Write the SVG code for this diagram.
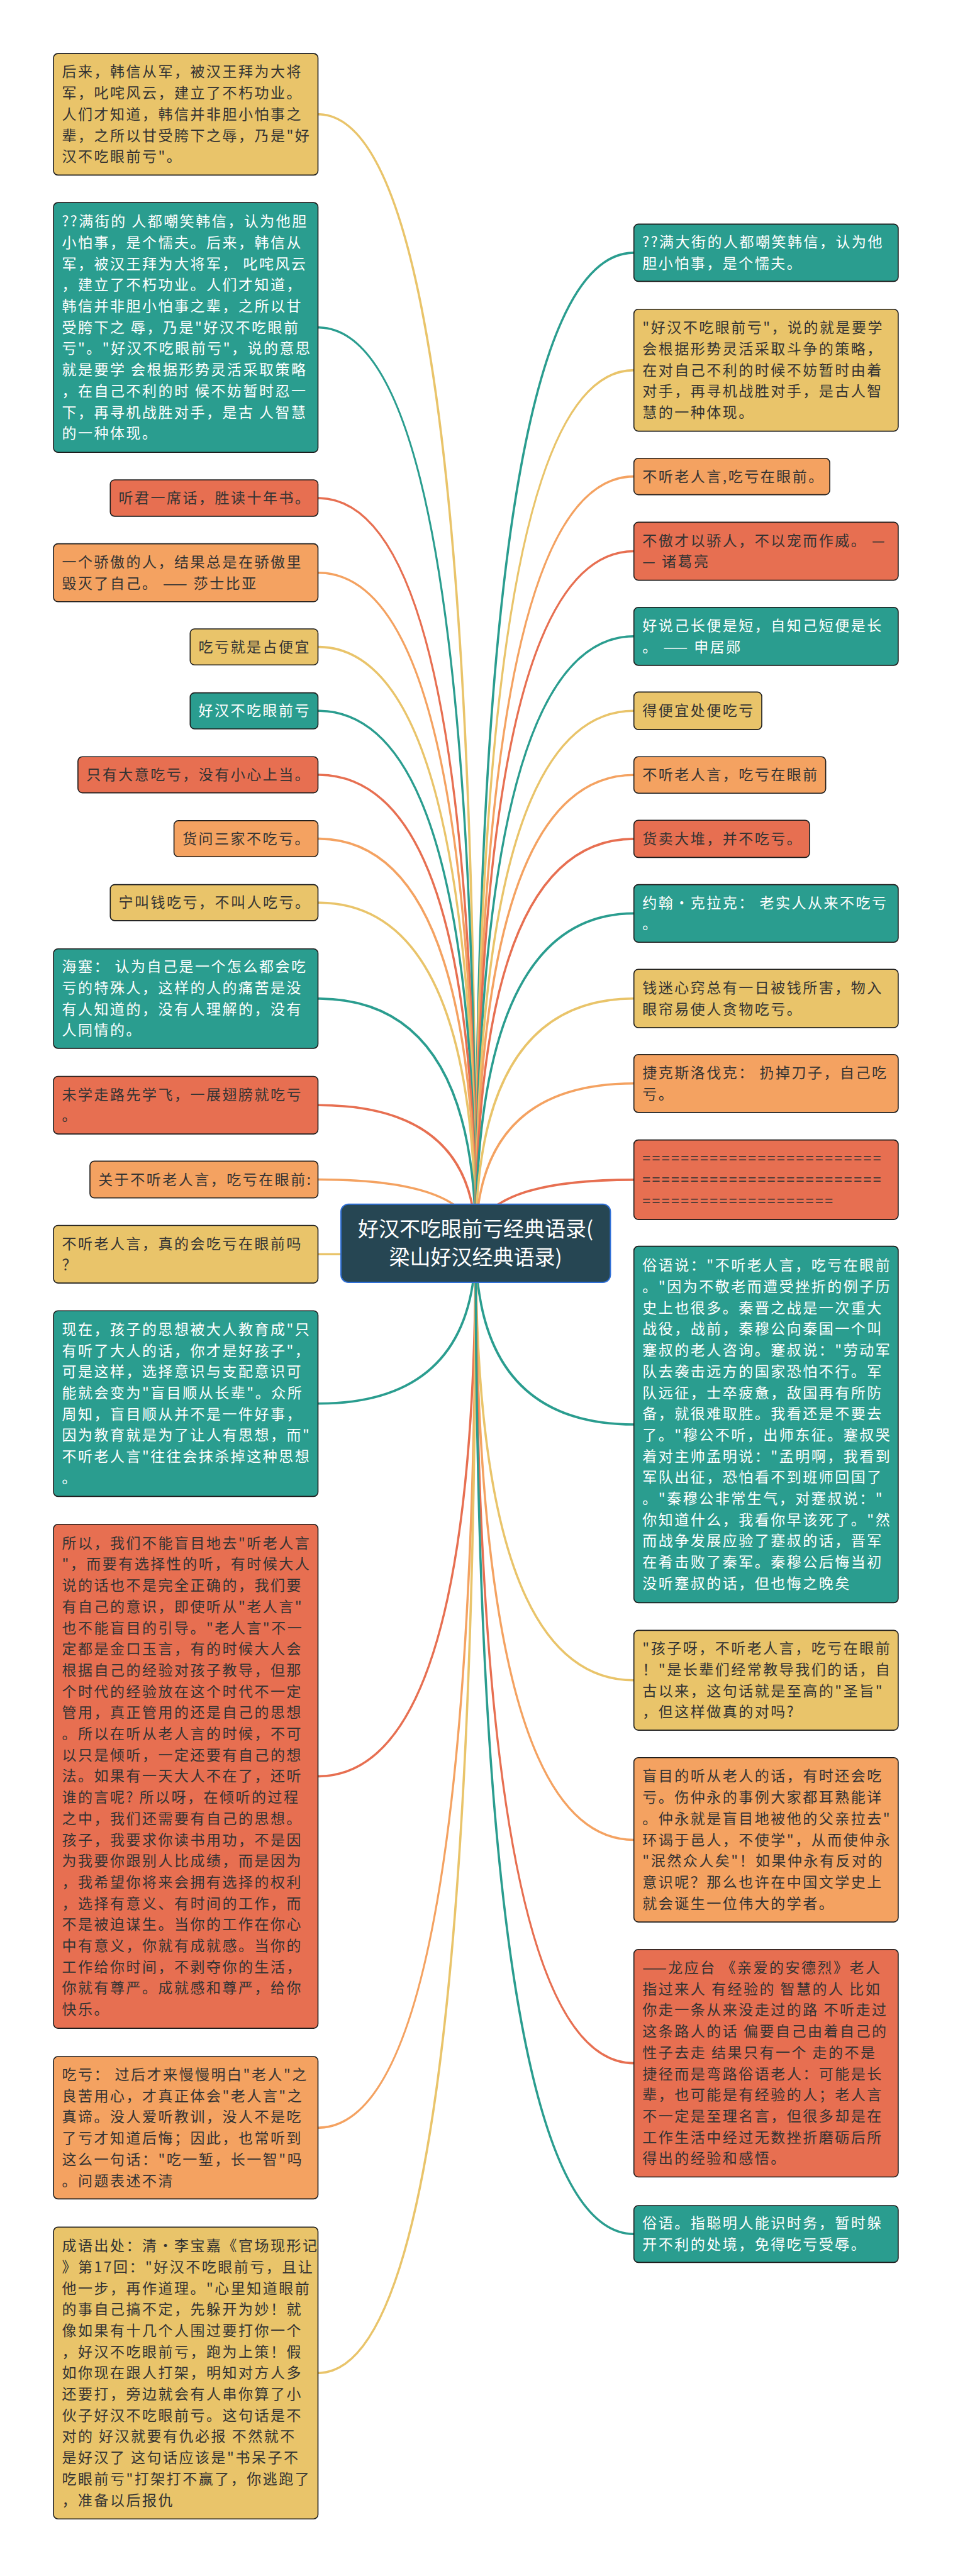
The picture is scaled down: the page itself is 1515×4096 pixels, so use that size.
<svg xmlns="http://www.w3.org/2000/svg" width="1515" height="4096" viewBox="0 0 1515 4096">
<style>
.n rect{stroke:#1c1c1c;stroke-width:1.6}
.Y rect{fill:#E9C46A}.O rect{fill:#F4A261}.R rect{fill:#E76F51}.T rect{fill:#2A9D8F}
.n text{font-family:"Noto Sans CJK SC","Noto Sans",sans-serif;font-size:23px;letter-spacing:2.5px;fill:#333}
.T text{fill:#fff}
#conn path{fill:none;stroke-width:3.6}
.cy{stroke:#E9C46A}.co{stroke:#F4A261}.cr{stroke:#E76F51}.ct{stroke:#2A9D8F}
</style>
<rect x="0" y="0" width="1515" height="4096" fill="#fff"/>
<g id="conn">
<path class="cy" d="M505.5 181.75Q756.2 181.75 756.2 1977"/>
<path class="ct" d="M505.5 520.65Q756.2 520.65 756.2 1977"/>
<path class="cr" d="M505.5 791.95Q756.2 791.95 756.2 1977"/>
<path class="co" d="M505.5 910.7Q756.2 910.7 756.2 1977"/>
<path class="cy" d="M505.5 1028.65Q756.2 1028.65 756.2 1977"/>
<path class="ct" d="M505.5 1130.3Q756.2 1130.3 756.2 1977"/>
<path class="cr" d="M505.5 1231.95Q756.2 1231.95 756.2 1977"/>
<path class="co" d="M505.5 1333.6Q756.2 1333.6 756.2 1977"/>
<path class="cy" d="M505.5 1435.25Q756.2 1435.25 756.2 1977"/>
<path class="ct" d="M505.5 1587.85Q756.2 1587.85 756.2 1977"/>
<path class="cr" d="M505.5 1757.3Q756.2 1757.3 756.2 1977"/>
<path class="co" d="M505.5 1875.55Q756.2 1875.55 756.2 1977"/>
<path class="cy" d="M505.5 1994.3Q756.2 1994.3 756.2 1977"/>
<path class="ct" d="M505.5 2231.8Q756.2 2231.8 756.2 1977"/>
<path class="cr" d="M505.5 2824.4Q756.2 2824.4 756.2 1977"/>
<path class="co" d="M505.5 3383.2Q756.2 3383.2 756.2 1977"/>
<path class="cy" d="M505.5 3773.25Q756.2 3773.25 756.2 1977"/>
<path class="ct" d="M1007.7 401.9Q756.2 401.9 756.2 1977"/>
<path class="cy" d="M1007.7 588.65Q756.2 588.65 756.2 1977"/>
<path class="co" d="M1007.7 757.65Q756.2 757.65 756.2 1977"/>
<path class="cr" d="M1007.7 876.5Q756.2 876.5 756.2 1977"/>
<path class="ct" d="M1007.7 1011.8Q756.2 1011.8 756.2 1977"/>
<path class="cy" d="M1007.7 1130.25Q756.2 1130.25 756.2 1977"/>
<path class="co" d="M1007.7 1232.25Q756.2 1232.25 756.2 1977"/>
<path class="cr" d="M1007.7 1333.85Q756.2 1333.85 756.2 1977"/>
<path class="ct" d="M1007.7 1452.4Q756.2 1452.4 756.2 1977"/>
<path class="cy" d="M1007.7 1587.7Q756.2 1587.7 756.2 1977"/>
<path class="co" d="M1007.7 1722.8Q756.2 1722.8 756.2 1977"/>
<path class="cr" d="M1007.7 1875.85Q756.2 1875.85 756.2 1977"/>
<path class="ct" d="M1007.7 2265Q756.2 2265 756.2 1977"/>
<path class="cy" d="M1007.7 2671.75Q756.2 2671.75 756.2 1977"/>
<path class="co" d="M1007.7 2925.45Q756.2 2925.45 756.2 1977"/>
<path class="cr" d="M1007.7 3280.65Q756.2 3280.65 756.2 1977"/>
<path class="ct" d="M1007.7 3552.2Q756.2 3552.2 756.2 1977"/>
</g>
<g id="root">
<rect x="542" y="1914.8" width="428.4" height="124.2" rx="12" fill="#264653" stroke="#2F6FD6" stroke-width="2"/>
<text font-family="'Noto Sans CJK SC','Noto Sans',sans-serif" font-size="33" fill="#fff" text-anchor="middle"><tspan x="756.2" y="1966">好汉不吃眼前亏经典语录(</tspan><tspan x="756.2" y="2011">梁山好汉经典语录)</tspan></text>
</g>
<g id="L1" class="n Y"><rect x="85.1" y="85.1" width="420.4" height="193.3" rx="7"/><text><tspan x="98.4" y="122.4">后来，韩信从军，被汉王拜为大将</tspan><tspan x="98.4" y="156.1">军，叱咤风云，建立了不朽功业。</tspan><tspan x="98.4" y="189.8">人们才知道，韩信并非胆小怕事之</tspan><tspan x="98.4" y="223.5">辈，之所以甘受胯下之辱，乃是"好</tspan><tspan x="98.4" y="257.2">汉不吃眼前亏"。</tspan></text></g>
<g id="L2" class="n T"><rect x="85.1" y="322.1" width="420.4" height="397.1" rx="7"/><text><tspan x="98.4" y="360.2">??满街的 人都嘲笑韩信，认为他胆</tspan><tspan x="98.4" y="393.9">小怕事，是个懦夫。后来，韩信从</tspan><tspan x="98.4" y="427.6">军，被汉王拜为大将军， 叱咤风云</tspan><tspan x="98.4" y="461.3">，建立了不朽功业。人们才知道，</tspan><tspan x="98.4" y="495">韩信并非胆小怕事之辈，之所以甘</tspan><tspan x="98.4" y="528.7">受胯下之 辱，乃是"好汉不吃眼前</tspan><tspan x="98.4" y="562.4">亏"。"好汉不吃眼前亏"，说的意思</tspan><tspan x="98.4" y="596.1">就是要学 会根据形势灵活采取策略</tspan><tspan x="98.4" y="629.8">，在自己不利的时 候不妨暂时忍一</tspan><tspan x="98.4" y="663.5">下，再寻机战胜对手，是古 人智慧</tspan><tspan x="98.4" y="697.2">的一种体现。</tspan></text></g>
<g id="L3" class="n R"><rect x="175.3" y="763" width="330.2" height="57.9" rx="7"/><text><tspan x="188.6" y="800">听君一席话，胜读十年书。</tspan></text></g>
<g id="L4" class="n O"><rect x="85.1" y="864.6" width="420.4" height="92.2" rx="7"/><text><tspan x="98.4" y="901.9">一个骄傲的人，结果总是在骄傲里</tspan><tspan x="98.4" y="935.6">毁灭了自己。 —— 莎士比亚</tspan></text></g>
<g id="L5" class="n Y"><rect x="302.3" y="1000" width="203.2" height="57.3" rx="7"/><text><tspan x="315.6" y="1036.7">吃亏就是占便宜</tspan></text></g>
<g id="L6" class="n T"><rect x="302.3" y="1101.6" width="203.2" height="57.4" rx="7"/><text><tspan x="315.6" y="1138.3">好汉不吃眼前亏</tspan></text></g>
<g id="L7" class="n R"><rect x="123.9" y="1203.3" width="381.6" height="57.3" rx="7"/><text><tspan x="137.2" y="1240">只有大意吃亏，没有小心上当。</tspan></text></g>
<g id="L8" class="n O"><rect x="276.6" y="1304.9" width="228.9" height="57.4" rx="7"/><text><tspan x="289.9" y="1341.6">货问三家不吃亏。</tspan></text></g>
<g id="L9" class="n Y"><rect x="175.3" y="1406.6" width="330.2" height="57.3" rx="7"/><text><tspan x="188.6" y="1443.3">宁叫钱吃亏，不叫人吃亏。</tspan></text></g>
<g id="L10" class="n T"><rect x="85.1" y="1508.8" width="420.4" height="158.1" rx="7"/><text><tspan x="98.4" y="1545.3">海塞： 认为自己是一个怎么都会吃</tspan><tspan x="98.4" y="1579">亏的特殊人，这样的人的痛苦是没</tspan><tspan x="98.4" y="1612.7">有人知道的，没有人理解的，没有</tspan><tspan x="98.4" y="1646.4">人同情的。</tspan></text></g>
<g id="L11" class="n R"><rect x="85.1" y="1711.5" width="420.4" height="91.6" rx="7"/><text><tspan x="98.4" y="1748.5">未学走路先学飞，一展翅膀就吃亏</tspan><tspan x="98.4" y="1782.2">。</tspan></text></g>
<g id="L12" class="n O"><rect x="143" y="1846.3" width="362.5" height="58.5" rx="7"/><text><tspan x="156.3" y="1883.6">关于不听老人言，吃亏在眼前:</tspan></text></g>
<g id="L13" class="n Y"><rect x="85.1" y="1948.5" width="420.4" height="91.6" rx="7"/><text><tspan x="98.4" y="1985.5">不听老人言，真的会吃亏在眼前吗</tspan><tspan x="98.4" y="2019.2">？</tspan></text></g>
<g id="L14" class="n T"><rect x="85.1" y="2084.2" width="420.4" height="295.2" rx="7"/><text><tspan x="98.4" y="2121.9">现在，孩子的思想被大人教育成"只</tspan><tspan x="98.4" y="2155.6">有听了大人的话，你才是好孩子"，</tspan><tspan x="98.4" y="2189.3">可是这样，选择意识与支配意识可</tspan><tspan x="98.4" y="2223">能就会变为"盲目顺从长辈"。众所</tspan><tspan x="98.4" y="2256.7">周知，盲目顺从并不是一件好事，</tspan><tspan x="98.4" y="2290.4">因为教育就是为了让人有思想，而"</tspan><tspan x="98.4" y="2324.1">不听老人言"往往会抹杀掉这种思想</tspan><tspan x="98.4" y="2357.8">。</tspan></text></g>
<g id="L15" class="n R"><rect x="85.1" y="2423.7" width="420.4" height="801.4" rx="7"/><text><tspan x="98.4" y="2461.7">所以，我们不能盲目地去"听老人言</tspan><tspan x="98.4" y="2495.4">"，而要有选择性的听，有时候大人</tspan><tspan x="98.4" y="2529.1">说的话也不是完全正确的，我们要</tspan><tspan x="98.4" y="2562.8">有自己的意识，即使听从"老人言"</tspan><tspan x="98.4" y="2596.5">也不能盲目的引导。"老人言"不一</tspan><tspan x="98.4" y="2630.2">定都是金口玉言，有的时候大人会</tspan><tspan x="98.4" y="2663.9">根据自己的经验对孩子教导，但那</tspan><tspan x="98.4" y="2697.6">个时代的经验放在这个时代不一定</tspan><tspan x="98.4" y="2731.3">管用，真正管用的还是自己的思想</tspan><tspan x="98.4" y="2765">。所以在听从老人言的时候，不可</tspan><tspan x="98.4" y="2798.7">以只是倾听，一定还要有自己的想</tspan><tspan x="98.4" y="2832.4">法。如果有一天大人不在了，还听</tspan><tspan x="98.4" y="2866.1">谁的言呢? 所以呀，在倾听的过程</tspan><tspan x="98.4" y="2899.8">之中，我们还需要有自己的思想。</tspan><tspan x="98.4" y="2933.5">孩子，我要求你读书用功，不是因</tspan><tspan x="98.4" y="2967.2">为我要你跟别人比成绩，而是因为</tspan><tspan x="98.4" y="3000.9">，我希望你将来会拥有选择的权利</tspan><tspan x="98.4" y="3034.6">，选择有意义、有时间的工作，而</tspan><tspan x="98.4" y="3068.3">不是被迫谋生。当你的工作在你心</tspan><tspan x="98.4" y="3102">中有意义，你就有成就感。当你的</tspan><tspan x="98.4" y="3135.7">工作给你时间，不剥夺你的生活，</tspan><tspan x="98.4" y="3169.4">你就有尊严。成就感和尊严，给你</tspan><tspan x="98.4" y="3203.1">快乐。</tspan></text></g>
<g id="L16" class="n O"><rect x="85.1" y="3270" width="420.4" height="226.4" rx="7"/><text><tspan x="98.4" y="3307">吃亏： 过后才来慢慢明白"老人"之</tspan><tspan x="98.4" y="3340.7">良苦用心，才真正体会"老人言"之</tspan><tspan x="98.4" y="3374.4">真谛。没人爱听教训，没人不是吃</tspan><tspan x="98.4" y="3408.1">了亏才知道后悔；因此，也常听到</tspan><tspan x="98.4" y="3441.8">这么一句话："吃一堑，长一智"吗</tspan><tspan x="98.4" y="3475.5">。问题表述不清</tspan></text></g>
<g id="L17" class="n Y"><rect x="85.1" y="3541.3" width="420.4" height="463.9" rx="7"/><text><tspan x="98.4" y="3579.1">成语出处：清·李宝嘉《官场现形记</tspan><tspan x="98.4" y="3612.8">》第17回："好汉不吃眼前亏，且让</tspan><tspan x="98.4" y="3646.5">他一步，再作道理。"心里知道眼前</tspan><tspan x="98.4" y="3680.2">的事自己搞不定，先躲开为妙！就</tspan><tspan x="98.4" y="3713.9">像如果有十几个人围过要打你一个</tspan><tspan x="98.4" y="3747.6">，好汉不吃眼前亏，跑为上策！假</tspan><tspan x="98.4" y="3781.3">如你现在跟人打架，明知对方人多</tspan><tspan x="98.4" y="3815">还要打，旁边就会有人串你算了小</tspan><tspan x="98.4" y="3848.7">伙子好汉不吃眼前亏。这句话是不</tspan><tspan x="98.4" y="3882.4">对的 好汉就要有仇必报 不然就不</tspan><tspan x="98.4" y="3916.1">是好汉了 这句话应该是"书呆子不</tspan><tspan x="98.4" y="3949.8">吃眼前亏"打架打不赢了，你逃跑了</tspan><tspan x="98.4" y="3983.5">，准备以后报仇</tspan></text></g>
<g id="R1" class="n T"><rect x="1007.7" y="356.4" width="420.2" height="91" rx="7"/><text><tspan x="1021.3" y="393.1">??满大街的人都嘲笑韩信，认为他</tspan><tspan x="1021.3" y="426.8">胆小怕事，是个懦夫。</tspan></text></g>
<g id="R2" class="n Y"><rect x="1007.7" y="491.7" width="420.2" height="193.9" rx="7"/><text><tspan x="1021.3" y="529.3">"好汉不吃眼前亏"，说的就是要学</tspan><tspan x="1021.3" y="563">会根据形势灵活采取斗争的策略，</tspan><tspan x="1021.3" y="596.7">在对自己不利的时候不妨暂时由着</tspan><tspan x="1021.3" y="630.4">对手，再寻机战胜对手，是古人智</tspan><tspan x="1021.3" y="664.1">慧的一种体现。</tspan></text></g>
<g id="R3" class="n O"><rect x="1007.7" y="728.7" width="311.4" height="57.9" rx="7"/><text><tspan x="1021.3" y="765.7">不听老人言,吃亏在眼前。</tspan></text></g>
<g id="R4" class="n R"><rect x="1007.7" y="830.4" width="420.2" height="92.2" rx="7"/><text><tspan x="1021.3" y="867.7">不傲才以骄人，不以宠而作威。 —</tspan><tspan x="1021.3" y="901.4">— 诸葛亮</tspan></text></g>
<g id="R5" class="n T"><rect x="1007.7" y="965.7" width="420.2" height="92.2" rx="7"/><text><tspan x="1021.3" y="1003">好说己长便是短，自知己短便是长</tspan><tspan x="1021.3" y="1036.7">。 —— 申居郧</tspan></text></g>
<g id="R6" class="n Y"><rect x="1007.7" y="1100.4" width="203.3" height="59.7" rx="7"/><text><tspan x="1021.3" y="1138.3">得便宜处便吃亏</tspan></text></g>
<g id="R7" class="n O"><rect x="1007.7" y="1203.3" width="304.9" height="57.9" rx="7"/><text><tspan x="1021.3" y="1240.3">不听老人言，吃亏在眼前</tspan></text></g>
<g id="R8" class="n R"><rect x="1007.7" y="1304.3" width="279.2" height="59.1" rx="7"/><text><tspan x="1021.3" y="1341.9">货卖大堆，并不吃亏。</tspan></text></g>
<g id="R9" class="n T"><rect x="1007.7" y="1406.6" width="420.2" height="91.6" rx="7"/><text><tspan x="1021.3" y="1443.6">约翰·克拉克： 老实人从来不吃亏</tspan><tspan x="1021.3" y="1477.3">。</tspan></text></g>
<g id="R10" class="n Y"><rect x="1007.7" y="1541.3" width="420.2" height="92.8" rx="7"/><text><tspan x="1021.3" y="1578.9">钱迷心窍总有一日被钱所害，物入</tspan><tspan x="1021.3" y="1612.6">眼帘易使人贪物吃亏。</tspan></text></g>
<g id="R11" class="n O"><rect x="1007.7" y="1676.7" width="420.2" height="92.2" rx="7"/><text><tspan x="1021.3" y="1714">捷克斯洛伐克： 扔掉刀子，自己吃</tspan><tspan x="1021.3" y="1747.7">亏。</tspan></text></g>
<g id="R12" class="n R"><rect x="1007.7" y="1812.6" width="420.2" height="126.5" rx="7"/><text><tspan x="1021.3" y="1850.2">=========================</tspan><tspan x="1021.3" y="1883.9">=========================</tspan><tspan x="1021.3" y="1917.6">====================</tspan></text></g>
<g id="R13" class="n T"><rect x="1007.7" y="1981.6" width="420.2" height="566.8" rx="7"/><text><tspan x="1021.3" y="2020.3">俗语说："不听老人言，吃亏在眼前</tspan><tspan x="1021.3" y="2054">。"因为不敬老而遭受挫折的例子历</tspan><tspan x="1021.3" y="2087.7">史上也很多。秦晋之战是一次重大</tspan><tspan x="1021.3" y="2121.4">战役，战前，秦穆公向秦国一个叫</tspan><tspan x="1021.3" y="2155.1">蹇叔的老人咨询。蹇叔说："劳动军</tspan><tspan x="1021.3" y="2188.8">队去袭击远方的国家恐怕不行。军</tspan><tspan x="1021.3" y="2222.5">队远征，士卒疲惫，敌国再有所防</tspan><tspan x="1021.3" y="2256.2">备，就很难取胜。我看还是不要去</tspan><tspan x="1021.3" y="2289.9">了。"穆公不听，出师东征。蹇叔哭</tspan><tspan x="1021.3" y="2323.6">着对主帅孟明说："孟明啊，我看到</tspan><tspan x="1021.3" y="2357.3">军队出征，恐怕看不到班师回国了</tspan><tspan x="1021.3" y="2391">。"秦穆公非常生气，对蹇叔说："</tspan><tspan x="1021.3" y="2424.7">你知道什么，我看你早该死了。"然</tspan><tspan x="1021.3" y="2458.4">而战争发展应验了蹇叔的话，晋军</tspan><tspan x="1021.3" y="2492.1">在肴击败了秦军。秦穆公后悔当初</tspan><tspan x="1021.3" y="2525.8">没听蹇叔的话，但也悔之晚矣</tspan></text></g>
<g id="R14" class="n Y"><rect x="1007.7" y="2592.4" width="420.2" height="158.7" rx="7"/><text><tspan x="1021.3" y="2629.2">"孩子呀，不听老人言，吃亏在眼前</tspan><tspan x="1021.3" y="2662.9">！"是长辈们经常教导我们的话，自</tspan><tspan x="1021.3" y="2696.6">古以来，这句话就是至高的"圣旨"</tspan><tspan x="1021.3" y="2730.3">，但这样做真的对吗?</tspan></text></g>
<g id="R15" class="n O"><rect x="1007.7" y="2794.8" width="420.2" height="261.3" rx="7"/><text><tspan x="1021.3" y="2832.4">盲目的听从老人的话，有时还会吃</tspan><tspan x="1021.3" y="2866.1">亏。伤仲永的事例大家都耳熟能详</tspan><tspan x="1021.3" y="2899.8">。仲永就是盲目地被他的父亲拉去"</tspan><tspan x="1021.3" y="2933.5">环谒于邑人，不使学"，从而使仲永</tspan><tspan x="1021.3" y="2967.2">"泯然众人矣"！如果仲永有反对的</tspan><tspan x="1021.3" y="3000.9">意识呢？那么也许在中国文学史上</tspan><tspan x="1021.3" y="3034.6">就会诞生一位伟大的学者。</tspan></text></g>
<g id="R16" class="n R"><rect x="1007.7" y="3099.8" width="420.2" height="361.7" rx="7"/><text><tspan x="1021.3" y="3137">——龙应台 《亲爱的安德烈》老人</tspan><tspan x="1021.3" y="3170.7">指过来人 有经验的 智慧的人 比如</tspan><tspan x="1021.3" y="3204.4">你走一条从来没走过的路 不听走过</tspan><tspan x="1021.3" y="3238.1">这条路人的话 偏要自己由着自己的</tspan><tspan x="1021.3" y="3271.8">性子去走 结果只有一个 走的不是</tspan><tspan x="1021.3" y="3305.5">捷径而是弯路俗语老人：可能是长</tspan><tspan x="1021.3" y="3339.2">辈，也可能是有经验的人；老人言</tspan><tspan x="1021.3" y="3372.9">不一定是至理名言，但很多却是在</tspan><tspan x="1021.3" y="3406.6">工作生活中经过无数挫折磨砺后所</tspan><tspan x="1021.3" y="3440.3">得出的经验和感悟。</tspan></text></g>
<g id="R17" class="n T"><rect x="1007.7" y="3507" width="420.2" height="90.4" rx="7"/><text><tspan x="1021.3" y="3543.4">俗语。指聪明人能识时务，暂时躲</tspan><tspan x="1021.3" y="3577.1">开不利的处境，免得吃亏受辱。</tspan></text></g>
</svg>
